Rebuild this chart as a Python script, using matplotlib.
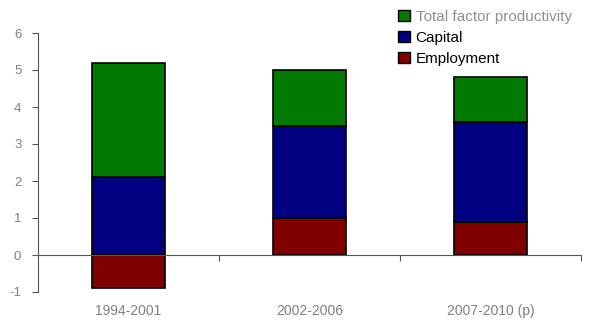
import matplotlib
matplotlib.use("Agg")
import matplotlib.pyplot as plt
from matplotlib.patches import Patch

plt.rcParams['font.family'] = ['Liberation Sans', 'DejaVu Sans']
plt.rcParams['axes.unicode_minus'] = False

# Data
periods = ["1994-2001", "2002-2006", "2007-2010 (p)"]
employment = [-0.9, 1.0, 0.9]
capital = [2.1, 2.5, 2.7]
tfp = [3.1, 1.5, 1.2]

col_emp = "#800000"
col_cap = "#000080"
col_tfp = "#007a00"

fig = plt.figure(figsize=(5.99, 3.2), dpi=100)
ax = fig.add_axes([38 / 599, 1 - 292 / 320, (581 - 38) / 599, (292 - 33) / 320])

x = list(range(len(periods)))
w = 0.4
ax.bar(x, employment, w, color=col_emp, edgecolor="black", linewidth=1.2, label="Employment")
ax.bar(x, capital, w, bottom=[max(e, 0) for e in employment], color=col_cap,
       edgecolor="black", linewidth=1.2, label="Capital")
ax.bar(x, tfp, w, bottom=[max(e, 0) + c for e, c in zip(employment, capital)],
       color=col_tfp, edgecolor="black", linewidth=1.2, label="Total factor productivity")

ax.set_xlim(-0.5, len(periods) - 0.5)
ax.set_ylim(-1, 6)
ax.set_yticks(range(-1, 7))

for s in ["top", "right"]:
    ax.spines[s].set_visible(False)
ax.spines["bottom"].set_position(("data", 0))
ax.spines["bottom"].set_color("#555555")
ax.spines["left"].set_color("#555555")

# boundary ticks on the zero line, category labels below the plot
ax.set_xticks([i + 0.5 for i in x])
ax.set_xticklabels([])
ax.set_xticks(x, minor=True)
ax.set_xticklabels(periods, minor=True)
ax.tick_params(axis="x", which="major", length=4, direction="out", color="#555555")
ax.tick_params(axis="x", which="minor", length=0, pad=35, labelsize=10, labelcolor="#808080")
ax.tick_params(axis="y", length=4, direction="out", color="#555555", labelsize=9.5,
               labelcolor="#808080", pad=8)

handles = [Patch(facecolor=col_tfp, edgecolor="black"),
           Patch(facecolor=col_cap, edgecolor="black"),
           Patch(facecolor=col_emp, edgecolor="black")]
labels = ["Total factor productivity", "Capital", "Employment"]
leg = fig.legend(handles, labels, loc="upper left", bbox_to_anchor=(398 / 599, 1 - 10 / 320),
                 frameon=False, fontsize=11, handlelength=0.8, handleheight=0.7,
                 handletextpad=0.35, labelspacing=0.45, borderpad=0, borderaxespad=0)
leg.get_texts()[0].set_color("#909090")

fig.savefig("out.png", dpi=100)
